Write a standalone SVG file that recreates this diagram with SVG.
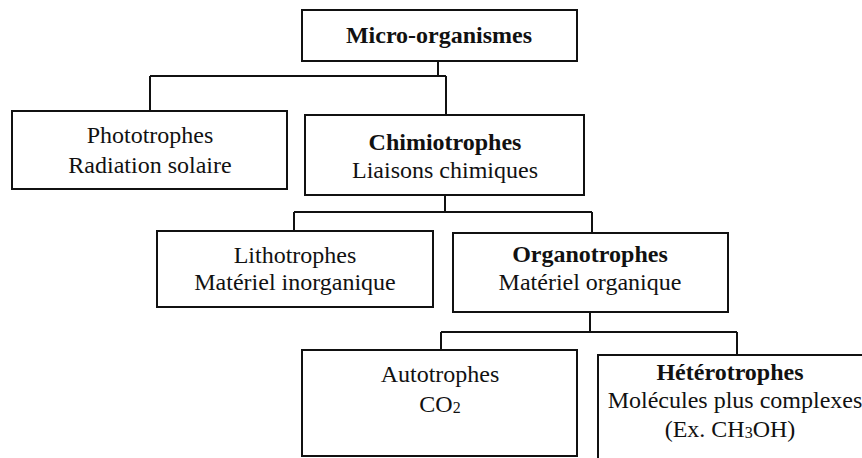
<svg xmlns="http://www.w3.org/2000/svg" width="862" height="458" viewBox="0 0 862 458">
<style>
.box{fill:#fff;stroke:#111;stroke-width:2}
.con{fill:none;stroke:#111;stroke-width:2}
text{font-family:"Liberation Serif","Times New Roman",serif;font-size:24px;fill:#111;text-anchor:middle}
.b{font-weight:bold}
.sub{font-size:16px}
</style>
<rect width="862" height="458" fill="#fff"/>
<g id="connectors">
<path class="con" d="M438,61 V76 M150,76 H446 M150,76 V111 M446,76 V115"/>
<path class="con" d="M445,195 V212 M294,212 H592 M294,212 V231 M592,212 V233"/>
<path class="con" d="M590,312 V332 M441,332 H737 M441,332 V350 M737,332 V355"/>
</g>
<g id="micro">
<rect class="box" x="302" y="10" width="275" height="51"/>
<text class="b" x="439" y="43">Micro-organismes</text>
</g>
<g id="photo">
<rect class="box" x="12" y="111" width="275" height="78"/>
<text x="150" y="143">Phototrophes</text>
<text x="150" y="173">Radiation solaire</text>
</g>
<g id="chimio">
<rect class="box" x="305" y="115" width="279" height="80"/>
<text class="b" x="445" y="150">Chimiotrophes</text>
<text x="445" y="178">Liaisons chimiques</text>
</g>
<g id="litho">
<rect class="box" x="157" y="231" width="276" height="76"/>
<text x="295" y="263">Lithotrophes</text>
<text x="295" y="290">Matériel inorganique</text>
</g>
<g id="organo">
<rect class="box" x="453" y="233" width="275" height="79"/>
<text class="b" x="590" y="262">Organotrophes</text>
<text x="590" y="290">Matériel organique</text>
</g>
<g id="auto">
<rect class="box" x="302" y="350" width="275" height="106"/>
<text x="440" y="382">Autotrophes</text>
<text x="440" y="412">CO<tspan class="sub" dy="1">2</tspan></text>
</g>
<g id="hetero">
<rect class="box" x="598" y="355" width="300" height="130"/>
<text class="b" x="730" y="380">Hétérotrophes</text>
<text x="735" y="408">Molécules plus complexes</text>
<text x="730" y="437">(Ex. CH<tspan class="sub" dy="1">3</tspan><tspan dy="-1">OH)</tspan></text>
</g>
</svg>
